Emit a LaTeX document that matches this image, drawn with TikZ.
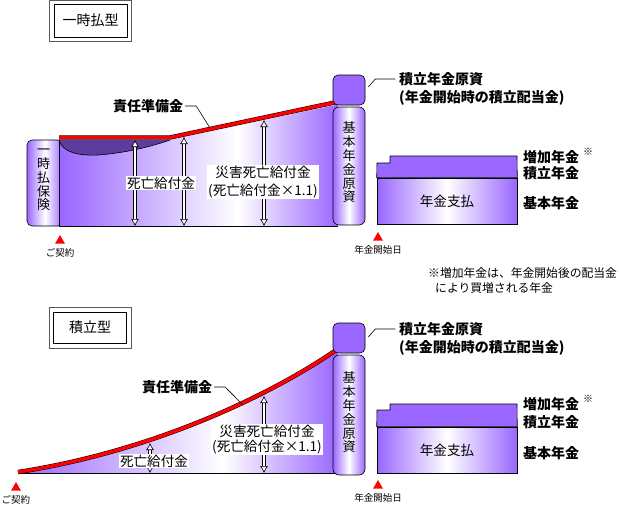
\documentclass[tikz,border=0pt]{standalone}
\usepackage{fontspec}
\setmainfont{Noto Sans CJK JP}
\usetikzlibrary{arrows.meta,positioning,shapes.geometric}

\definecolor{nenkin}{HTML}{9966FF}
\definecolor{crescent}{HTML}{5C3D9E}
\definecolor{band}{HTML}{FF0000}

\pgfdeclarehorizontalshading{reserveshade}{100bp}{%
    color(0bp)=(nenkin); color(25bp)=(nenkin); color(57bp)=(white);
    color(75bp)=(nenkin); color(100bp)=(nenkin)}

\tikzset{%
    base/.style = {draw=black, line width=0.6pt, inner sep=0pt},
    titlebox/.style = {
        base, minimum width=73pt, minimum height=33pt,
        font=\fontsize{14}{16}\selectfont
    },
    titleframe/.style = {
        draw=gray!70!black, line width=1pt, minimum width=82pt,
        minimum height=41pt, inner sep=0pt
    },
    fundbox/.style = {
        base, rounded corners=6pt, minimum width=32pt,
        left color=nenkin, right color=nenkin, middle color=white
    },
    topbox/.style = {base, rounded corners=5pt, minimum width=32pt, minimum height=30pt, fill=nenkin},
    paybox/.style = {
        base, minimum width=140pt, minimum height=46pt,
        left color=nenkin, right color=nenkin, middle color=white,
        font=\fontsize{13.6}{16}\selectfont
    },
    vtext/.style = {align=center, inner sep=0pt, font=\fontsize{13}{13.8}\selectfont},
    amount/.style = {inner sep=1pt, fill=white, align=center, font=\fontsize{13.6}{18}\selectfont},
    tag/.style = {inner sep=0pt, align=left, font=\fontsize{14}{18}\selectfont\bfseries},
    datelabel/.style = {inner sep=0pt, font=\fontsize{9.5}{11}\selectfont},
    notemark/.style = {inner sep=0pt, font=\fontsize{10}{11}\selectfont\bfseries},
    notetext/.style = {inner sep=0pt, align=left, font=\fontsize{11.8}{15}\selectfont},
    tri/.style = {regular polygon, regular polygon sides=3, fill=red, inner sep=0pt, minimum size=11.5pt},
    redband/.style = {draw=black, line width=0.5pt, double=band, double distance=3.4pt, line join=round},
    payarrow/.style = {
        draw=black, line width=0.6pt, double=white, double distance=2.4pt,
        {Latex[open,fill=white,length=7pt,width=8pt]}-{Latex[open,fill=white,length=7pt,width=8pt]}
    },
    leader/.style = {draw=black, line width=0.6pt},
}

\begin{document}
\begin{tikzpicture}[x=1pt, y=-1pt]
    \useasboundingbox (0,0) rectangle (619,507);

    % Upper half: single premium
    \node (frame1) [titleframe] at (90,21) {};
    \node (title1) [titlebox] at (90.5,20.5) {一時払型};

    \node (lumpBox) [fundbox, rounded corners=5pt, minimum width=36pt, minimum height=86pt] at (45,183) {};
    \node (lumpText) [vtext] at (43.5,180) {一\\時\\払\\保\\険};

    \shade[shading=reserveshade] (59,140) -- (170,140) -- (338,104.5) -- (338,226) -- (59,226) -- cycle;
    \filldraw[fill=crescent, line width=0.6pt] (59,140) .. controls (62,152) and (78,156) .. (98,155)
        .. controls (125,153) and (150,147) .. (170,140);
    \draw[base] (59,140) -- (59,226) -- (338,226);
    \draw[redband] (59,137.5) -- (170,137.5) -- (337,102);

    % Arrow specification
    \coordinate (d1top) at (135,140);
    \coordinate (d1foot) at (135,226);
    \coordinate (d2top) at (184,137);
    \coordinate (d2foot) at (184,226);
    \coordinate (d3top) at (264,120);
    \coordinate (d3foot) at (264,226);
    \draw[payarrow] (d1top) -- (d1foot);
    \draw[payarrow] (d2top) -- (d2foot);
    \draw[payarrow] (d3top) -- (d3foot);

    \node (death1) [amount] at (161,183) {死亡給付金};
    \node (accident1) [amount] at (263,182) {災害死亡給付金\\(死亡給付金×1.1)};
    \node (reserve1) [tag] at (148,106) {責任準備金};
    \coordinate (reserveTouch1) at (210,128);
    \draw[leader] (reserve1.east) ++(2,0) -- ++(11,0) -- (reserveTouch1);

    \node (core1) [fundbox, minimum height=118pt] at (349,166) {};
    \node (coreText1) [vtext] at (349,162.5) {基\\本\\年\\金\\原\\資};
    \node (extra1) [topbox] at (349,90) {};
    \node (fund1) [tag, anchor=west] at (399,89) {積立年金原資\\(年金開始時の積立配当金)};
    \draw[leader] (extra1.east) ++(3,-3) -- ++(7,-8) -- ++(20,0);

    \node (pay1) [paybox] at (447,201) {年金支払};
    \draw[base, fill=nenkin] (pay1.north west) -- (377,163) -- (390,163) -- (390,156)
        -- (517,156) -- (pay1.north east) -- cycle;
    \node (plus1) [tag] at (551,157) {増加年金};
    \node (mark1) [notemark] at (588,152) {※};
    \node (acc1) [tag] at (551,173) {積立年金};
    \node (basic1) [tag] at (551,203) {基本年金};

    \node (start1) [tri] at (60,240.8) {};
    \node (startText1) [datelabel, below=4pt of start1] {ご契約};
    \node (begin1) [tri] at (378,237.8) {};
    \node (beginText1) [datelabel, below=4pt of begin1] {年金開始日};

    \node (note) [notetext, anchor=west] at (428,280.5)
        {※増加年金は、年金開始後の配当金\\\hspace{7pt}により買増される年金};

    % Lower half: accumulation
    \node (frame2) [titleframe] at (90,327.5) {};
    \node (title2) [titlebox, minimum height=31pt] at (90,327.5) {積立型};

    \shade[shading=reserveshade] (18,473) .. controls (140,455) and (258,405) .. (338,350)
        -- (338,473) -- cycle;
    \draw[base] (18,473) -- (338,473);
    \draw[redband] (18,472) .. controls (140,453.5) and (258,403.5) .. (337,349.5);

    \coordinate (d4top) at (150,443);
    \coordinate (d4foot) at (150,473);
    \coordinate (d5top) at (264,396);
    \coordinate (d5foot) at (264,473);
    \draw[payarrow] (d4top) -- (d4foot);
    \draw[payarrow] (d5top) -- (d5foot);

    \node (death2) [amount] at (154,461) {死亡給付金};
    \node (accident2) [amount, font=\fontsize{13.6}{15}\selectfont] at (267,439.5) {災害死亡給付金\\(死亡給付金×1.1)};
    \node (reserve2) [tag] at (177,387) {責任準備金};
    \coordinate (reserveTouch2) at (242,404);
    \draw[leader] (reserve2.east) ++(2,0) -- ++(11,0) -- (reserveTouch2);

    \node (core2) [fundbox, minimum height=120pt] at (349,415) {};
    \node (coreText2) [vtext] at (349,412.5) {基\\本\\年\\金\\原\\資};
    \node (extra2) [topbox] at (349,338) {};
    \node (fund2) [tag, anchor=west] at (399,339) {積立年金原資\\(年金開始時の積立配当金)};
    \draw[leader] (extra2.east) ++(3,-1) -- ++(7,-8) -- ++(20,0);

    \node (pay2) [paybox] at (447,450) {年金支払};
    \draw[base, fill=nenkin] (pay2.north west) -- (377,410) -- (390,410) -- (390,404)
        -- (517,404) -- (pay2.north east) -- cycle;
    \node (plus2) [tag] at (551,404) {増加年金};
    \node (mark2) [notemark] at (588,399) {※};
    \node (acc2) [tag] at (551,422) {積立年金};
    \node (basic2) [tag] at (551,453) {基本年金};

    \node (start2) [tri] at (16,487.8) {};
    \node (startText2) [datelabel, below=4pt of start2] {ご契約};
    \node (begin2) [tri] at (378,485.8) {};
    \node (beginText2) [datelabel, below=4pt of begin2] {年金開始日};
\end{tikzpicture}
\end{document}
